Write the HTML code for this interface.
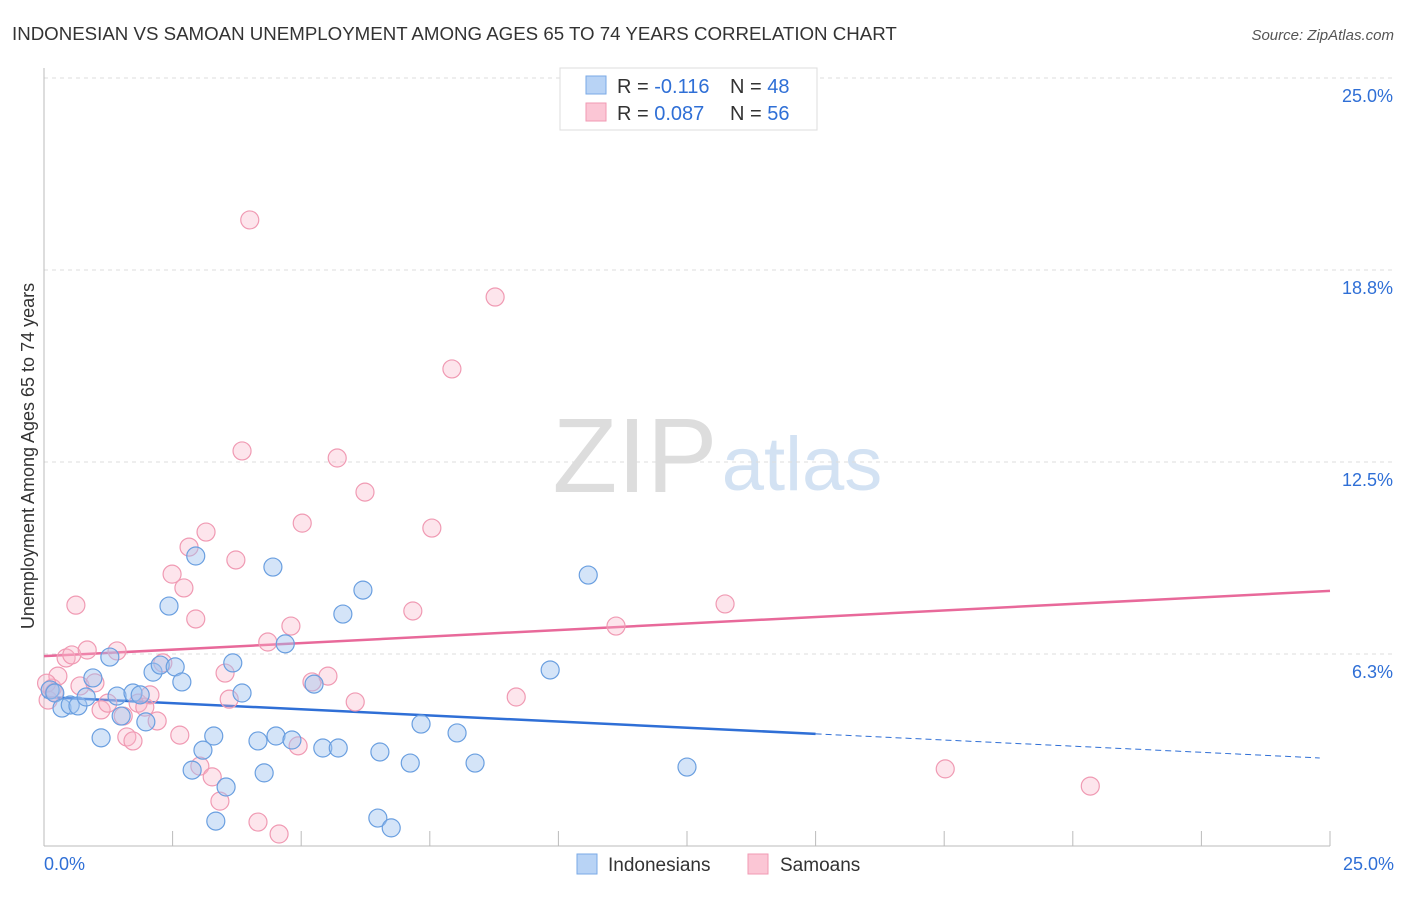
<!DOCTYPE html>
<html><head><meta charset="utf-8">
<style>
body{margin:0;background:#fff;font-family:"Liberation Sans",sans-serif;}
svg text{font-family:"Liberation Sans",sans-serif;}
</style></head>
<body>
<svg id="chart" width="1406" height="892" xmlns="http://www.w3.org/2000/svg">
<text x="12" y="40" font-size="18.7" fill="#333">INDONESIAN VS SAMOAN UNEMPLOYMENT AMONG AGES 65 TO 74 YEARS CORRELATION CHART</text>
<text x="1394" y="40" font-size="15" fill="#555" font-style="italic" text-anchor="end">Source: ZipAtlas.com</text>
<g>
<text x="635" y="492" font-size="106" fill="#ddd" font-family="Liberation Serif" text-anchor="middle">ZIP</text>
<text x="802" y="490" font-size="76" fill="#d3e2f3" text-anchor="middle">atlas</text>
</g>
<g id="grid"></g>
<g id="axes"></g>
<g id="trends"></g>
<g id="pts"></g>
<text transform="translate(34,456) rotate(-90)" font-size="18" fill="#333" text-anchor="middle">Unemployment Among Ages 65 to 74 years</text>
<g>
<rect x="560" y="68" width="257" height="62" fill="#fff" stroke="#ddd"/>
<rect x="586" y="76" width="20" height="18" fill="#b8d3f5" stroke="#7aa9e6"/>
<rect x="586" y="103" width="20" height="18" fill="#fbc6d5" stroke="#f09ab3"/>
<text x="617" y="93" font-size="20" fill="#333">R = <tspan fill="#2f6fd6">-0.116</tspan></text>
<text x="730" y="93" font-size="20" fill="#333">N = <tspan fill="#2f6fd6">48</tspan></text>
<text x="617" y="120" font-size="20" fill="#333">R = <tspan fill="#2f6fd6">0.087</tspan></text>
<text x="730" y="120" font-size="20" fill="#333">N = <tspan fill="#2f6fd6">56</tspan></text>
</g>
<g>
<rect x="577" y="854" width="20" height="20" fill="#b8d3f5" stroke="#7aa9e6"/>
<text x="608" y="871" font-size="19" fill="#333">Indonesians</text>
<rect x="748" y="854" width="20" height="20" fill="#fbc6d5" stroke="#f09ab3"/>
<text x="780" y="871" font-size="19" fill="#333">Samoans</text>
</g>
</svg>
<script>
const yTicks=[6.25,12.5,18.75,25];
const yTickLabels=["6.3%","12.5%","18.8%","25.0%"];
const xTicks=[0,2.5,5,7.5,10,12.5,15,17.5,20,22.5,25];
const blueX=[0.12,0.21,0.35,0.51,0.66,0.82,0.95,1.11,1.28,1.42,1.50,1.73,1.87,1.98,2.12,2.26,2.43,2.55,2.68,2.88,2.95,3.09,3.30,3.34,3.54,3.67,3.85,4.16,4.28,4.45,4.51,4.69,4.82,5.25,5.42,5.72,5.81,6.20,6.49,6.53,6.75,7.12,7.33,8.03,8.38,9.84,10.58,12.50];
const blueY=[5.08,4.98,4.49,4.59,4.56,4.85,5.47,3.52,6.15,4.88,4.23,4.98,4.92,4.04,5.66,5.89,7.81,5.83,5.34,2.47,9.44,3.12,3.58,0.81,1.92,5.96,4.98,3.42,2.38,9.08,3.58,6.58,3.45,5.27,3.19,3.19,7.55,8.33,0.91,3.06,0.59,2.70,3.97,3.68,2.70,5.73,8.82,2.57];
const pinkX=[0.08,0.16,0.27,0.43,0.54,0.62,0.70,0.84,0.99,1.11,1.24,1.42,1.54,1.61,1.73,1.83,1.96,2.06,2.20,2.31,2.49,2.64,2.72,2.82,2.95,3.03,3.15,3.27,3.42,3.52,3.60,3.73,3.85,4.00,4.16,4.35,4.57,4.80,4.94,5.02,5.21,5.52,5.70,6.05,6.24,7.17,7.54,7.93,8.77,9.18,11.12,13.24,17.52,20.34,0.05,0.2];
const pinkY=[4.75,5.14,5.53,6.12,6.22,7.84,5.21,6.38,5.31,4.43,4.65,6.35,4.23,3.55,3.42,4.65,4.52,4.92,4.07,5.96,8.85,3.61,8.40,9.73,7.39,2.60,10.22,2.25,1.46,5.63,4.78,9.31,12.86,20.38,0.78,6.64,0.39,7.16,3.26,10.51,5.34,5.53,12.63,4.69,11.52,7.65,10.35,15.53,17.87,4.85,7.16,7.88,2.51,1.95,5.3,5.0];
const blueTrend=[4.85,-0.08];   // intercept, slope
const pinkTrend=[6.18,0.085];
const blueSolidEnd=15;
const X=v=>44+v/25*1286, Y=v=>846-v/25*768;
const NS="http://www.w3.org/2000/svg";
function mk(tag,attrs,parent){const e=document.createElementNS(NS,tag);for(const k in attrs)e.setAttribute(k,attrs[k]);document.getElementById(parent).appendChild(e);return e;}
yTicks.forEach((t,i)=>{
 const l=mk('line',{x1:44,x2:1394,y1:Y(t),y2:Y(t),stroke:'#ddd','stroke-dasharray':'4,4'},'grid');
 
 
 const tx=mk('text',{x:1393,y:Y(t)+24,'font-size':18,fill:'#2f6fd6','text-anchor':'end'},'grid');
 tx.textContent=yTickLabels[i];
 
 
});
const ax=mk('line',{x1:44,x2:44,y1:68,y2:846,stroke:'#bbb'},'axes');


const bx=mk('line',{x1:44,x2:1330,y1:846,y2:846,stroke:'#bbb'},'axes');


xTicks.forEach(t=>{
 const l=mk('line',{x1:X(t),x2:X(t),y1:831,y2:846,stroke:'#bbb'},'axes');
 
 
});
[[0,'0.0%','start',44],[25,'25.0%','end',1394]].forEach(a=>{
 const t=mk('text',{x:a[3],y:870,'font-size':18,fill:'#2f6fd6','text-anchor':a[2]},'axes');
 t.textContent=a[1];
 
 
});
function dots(xs,ys,fill,stroke,name){xs.forEach((x,i)=>{
 const c=mk('circle',{cx:X(x),cy:Y(ys[i]),r:9,fill:fill,stroke:stroke,'stroke-width':1.2},'pts');
 
 
});}
dots(pinkX,pinkY,'rgba(248,180,200,0.35)','#f09ab3','samoan-point');
dots(blueX,blueY,'rgba(160,196,240,0.45)','#6a9fe0','indonesian-point');
const pl=mk('line',{x1:X(0),y1:Y(pinkTrend[0]),x2:X(25),y2:Y(pinkTrend[0]+pinkTrend[1]*25),stroke:'#e8699a','stroke-width':2.5},'trends');


const bl=mk('line',{x1:X(0),y1:Y(blueTrend[0]),x2:X(blueSolidEnd),y2:Y(blueTrend[0]+blueTrend[1]*blueSolidEnd),stroke:'#2f6fd6','stroke-width':2.5},'trends');


const bd=mk('line',{x1:X(blueSolidEnd),y1:Y(blueTrend[0]+blueTrend[1]*blueSolidEnd),x2:X(24.8),y2:Y(blueTrend[0]+blueTrend[1]*24.8),stroke:'#2f6fd6','stroke-width':1,'stroke-dasharray':'6,4'},'trends');


</script>
</body></html>
